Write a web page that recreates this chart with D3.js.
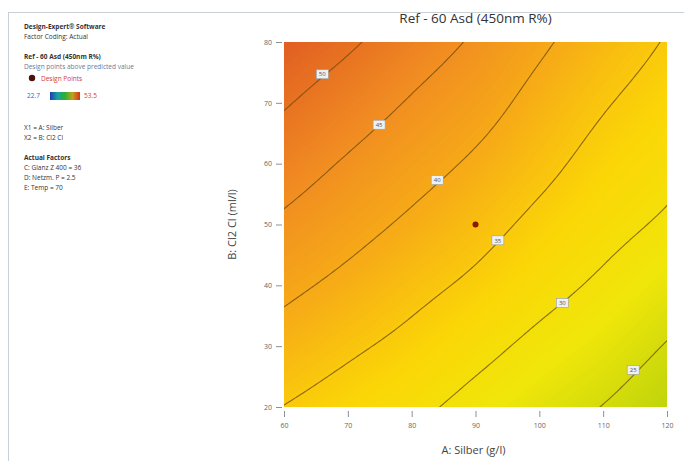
<!DOCTYPE html>
<html>
<head>
<meta charset="utf-8">
<script src="https://cdn.jsdelivr.net/npm/d3@7"></script>
<style>
  body { margin: 0; background: #fff; font-family: "Open Sans", "Liberation Sans", sans-serif; }
</style>
</head>
<body>
<div id="chart"></div>
<script>
// factor levels (grid nodes)
var silber = [60, 70, 80, 90, 100, 110, 120];
var chlor  = [20, 30, 40, 50, 60, 70, 80];
// Ref R% read at every node, rows = chlor (low->high), cols = silber
var refGrid = [
  [34.9, 32.9, 31.0, 28.7, 26.7, 24.9, 22.7],
  [38.0, 35.8, 33.7, 31.3, 29.0, 27.1, 24.8],
  [41.1, 38.8, 36.4, 34.1, 31.5, 29.3, 27.1],
  [44.2, 41.7, 39.2, 36.7, 33.9, 31.4, 29.4],
  [47.3, 44.5, 41.9, 39.3, 36.3, 33.4, 31.2],
  [50.4, 47.5, 44.6, 41.9, 38.5, 35.4, 33.0],
  [53.5, 50.7, 47.4, 44.4, 40.8, 37.5, 34.7]
];
var levels = [25, 30, 35, 40, 45, 50];
var labelSpots = [[114.7, 26.1], [103.6, 37.1], [93.5, 47.4], [84, 57.3], [74.9, 66.4], [66, 74.7]];
var designPts = [[90, 50]];
var xTicks = [60, 70, 80, 90, 100, 110, 120];
var yTicks = [20, 30, 40, 50, 60, 70, 80];
var legendLines = [
  {t: "Design-Expert\u00ae Software", b: true},
  {t: "Factor Coding: Actual"},
  {gap: 1},
  {t: "Ref - 60 Asd (450nm R%)", b: true},
  {t: "Design points above predicted value", c: "#6a7a96"}
];
var factorLines = [
  {t: "X1 = A: Silber"},
  {t: "X2 = B: Cl2 Cl"},
  {gap: 1},
  {t: "Actual Factors", b: true},
  {t: "C: Glanz Z 400 = 36"},
  {t: "D: Netzm. P = 2.5"},
  {t: "E: Temp = 70"}
];
var rangeLow = "22.7", rangeHigh = "53.5";

var W = 684, H = 461;
var svg = d3.select("#chart").append("svg").attr("width", W).attr("height", H);

// outer frame
svg.append("rect").attr("x", 8.5).attr("y", 12.5).attr("width", W + 10).attr("height", H + 10)
  .attr("fill", "none").attr("stroke", "#c9d0d8");

var plot = {left: 284, right: 667, top: 42, bottom: 407};
var x = d3.scaleLinear().domain([60, 120]).range([plot.left, plot.right]);
var y = d3.scaleLinear().domain([20, 80]).range([plot.bottom, plot.top]);

var color = d3.scaleLinear()
  .domain([22, 28, 33, 39, 46, 54])
  .range(["#b9d20c", "#f0e60a", "#fbd607", "#f7ae16", "#f08a22", "#e05c22"])
  .clamp(true);

// smooth surface over the grid (Catmull-Rom) for drawing only
function node(i, j) {
  if (i < 0) return 2 * node(0, j) - node(1, j);
  if (i > 6) return 2 * node(6, j) - node(5, j);
  if (j < 0) return 2 * node(i, 0) - node(i, 1);
  if (j > 6) return 2 * node(i, 6) - node(i, 5);
  return refGrid[j][i];
}
function cr(p0, p1, p2, p3, t) {
  return 0.5 * (2 * p1 + (-p0 + p2) * t + (2 * p0 - 5 * p1 + 4 * p2 - p3) * t * t + (-p0 + 3 * p1 - 3 * p2 + p3) * t * t * t);
}
function surf(u, v) {
  var i = Math.min(5, Math.floor(u)), j = Math.min(5, Math.floor(v));
  var tu = u - i, tv = v - j, col = [];
  for (var k = -1; k <= 2; k++) {
    col.push(cr(node(i - 1, j + k), node(i, j + k), node(i + 1, j + k), node(i + 2, j + k), tu));
  }
  return cr(col[0], col[1], col[2], col[3], tv);
}

var step = 0.5, nx = 121, ny = 121, vals = new Array(nx * ny);
for (var l = 0; l < ny; l++) {
  for (var k = 0; k < nx; k++) {
    vals[l * nx + k] = surf(k * step / 10, l * step / 10);
  }
}
var proj = d3.geoPath(d3.geoTransform({
  point: function(cx, cy) {
    this.stream.point(x(60 + (cx - 0.5) * step), y(20 + (cy - 0.5) * step));
  }
}));

svg.append("clipPath").attr("id", "clip").append("rect")
  .attr("x", plot.left).attr("y", plot.top)
  .attr("width", plot.right - plot.left).attr("height", plot.bottom - plot.top);

var g = svg.append("g").attr("clip-path", "url(#clip)");

var fillTh = d3.range(15, 58, 0.25);
g.append("g").selectAll("path")
  .data(d3.contours().size([nx, ny]).thresholds(fillTh)(vals))
  .join("path")
  .attr("d", proj)
  .attr("fill", function(d) { return color(d.value + 0.125); })
  .attr("stroke", function(d) { return color(d.value + 0.125); })
  .attr("stroke-width", 0.6);

g.append("g").selectAll("path")
  .data(d3.contours().size([nx, ny]).thresholds(levels)(vals))
  .join("path")
  .attr("d", proj)
  .attr("fill", "none")
  .attr("stroke", "#6b4a0c")
  .attr("stroke-opacity", 0.75)
  .attr("stroke-width", 1.1);

// contour labels
var lab = svg.append("g").selectAll("g")
  .data(labelSpots)
  .join("g")
  .attr("transform", function(d) { return "translate(" + x(d[0]) + "," + y(d[1]) + ")"; });
lab.append("rect").attr("x", -6).attr("y", -4.5).attr("width", 12).attr("height", 9)
  .attr("fill", "#eef0f2").attr("stroke", "#9a9ea6").attr("stroke-width", 0.6);
lab.append("text").attr("y", 2.2).attr("text-anchor", "middle")
  .attr("font-size", 6).attr("fill", "#555")
  .text(function(d, i) { return levels[i]; });

// design point
svg.append("g").selectAll("circle")
  .data(designPts)
  .join("circle")
  .attr("cx", function(d) { return x(d[0]); })
  .attr("cy", function(d) { return y(d[1]); })
  .attr("r", 3)
  .attr("fill", "#8a1a08");

// axes
var xAxis = svg.append("g").attr("transform", "translate(0," + (plot.bottom + 4) + ")")
  .call(d3.axisBottom(x).tickValues(xTicks).tickSize(6).tickPadding(6).tickFormat(d3.format("d")));
var yAxis = svg.append("g").attr("transform", "translate(" + (plot.left - 2) + ",0)")
  .call(d3.axisLeft(y).tickValues(yTicks).tickSize(6).tickPadding(4).tickFormat(d3.format("d")));
[xAxis, yAxis].forEach(function(a) {
  a.select(".domain").remove();
  a.selectAll("line").attr("stroke", "#8a8f98");
  a.selectAll("text").attr("fill", "#666").attr("font-size", 7)
    .attr("font-family", "'Open Sans', sans-serif");
});

svg.append("text").attr("x", (plot.left + plot.right) / 2).attr("y", 23)
  .attr("text-anchor", "middle").attr("font-size", 13.5).attr("fill", "#333")
  .text("Ref - 60 Asd (450nm R%)");
svg.append("text").attr("x", (plot.left + plot.right) / 2 - 2).attr("y", 454)
  .attr("text-anchor", "middle").attr("font-size", 11).attr("fill", "#444")
  .text("A: Silber (g/l)");
svg.append("text").attr("transform", "translate(236," + ((plot.top + plot.bottom) / 2) + ") rotate(-90)")
  .attr("text-anchor", "middle").attr("font-size", 11).attr("fill", "#444")
  .text("B: Cl2 Cl (ml/l)");

// left legend block
function writeLines(lines, y0) {
  var yy = y0;
  lines.forEach(function(d) {
    if (d.gap) { yy += 10; return; }
    svg.append("text").attr("x", 24).attr("y", yy).attr("font-size", 6.5)
      .attr("font-weight", d.b ? "bold" : "normal")
      .attr("fill", d.c || "#333").text(d.t);
    yy += 10;
  });
}
writeLines(legendLines, 29);
writeLines(factorLines, 130);

svg.append("circle").attr("cx", 32).attr("cy", 78).attr("r", 3.2).attr("fill", "#4a1208");
svg.append("text").attr("x", 41).attr("y", 80.5).attr("font-size", 6.5).attr("fill", "#d03a3a").text("Design Points");

var grad = svg.append("defs").append("linearGradient").attr("id", "bar");
["#1a3fb0", "#1aa0a0", "#2cb030", "#c0a020", "#d8301a"].forEach(function(c, i) {
  grad.append("stop").attr("offset", (i * 25) + "%").attr("stop-color", c);
});
svg.append("text").attr("x", 27).attr("y", 98).attr("font-size", 6.5).attr("fill", "#3a5ec8").text(rangeLow);
svg.append("rect").attr("x", 50).attr("y", 92).attr("width", 30).attr("height", 8).attr("fill", "url(#bar)");
svg.append("text").attr("x", 84).attr("y", 98).attr("font-size", 6.5).attr("fill", "#d03a3a").text(rangeHigh);
</script>
</body>
</html>
